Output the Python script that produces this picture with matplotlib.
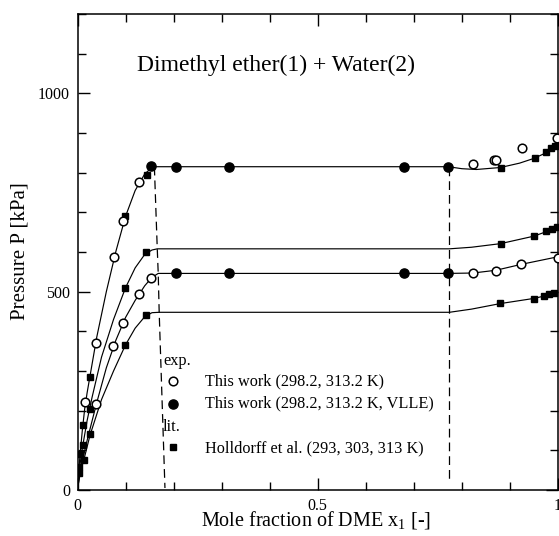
import matplotlib
matplotlib.use("Agg")
import matplotlib.pyplot as plt
from matplotlib.ticker import MultipleLocator

plt.rcParams['font.family'] = ['Liberation Serif', 'DejaVu Serif']
plt.rcParams['mathtext.fontset'] = 'custom'
plt.rcParams['mathtext.rm'] = 'Liberation Serif'
plt.rcParams['mathtext.it'] = 'Liberation Serif:italic'

# this work, VLE (open circles)
x_open_313 = [0.015, 0.038, 0.076, 0.094, 0.128, 0.824, 0.867, 0.872, 0.926, 0.997]
p_open_313 = [222, 370, 588, 677, 776, 821, 831, 833, 861, 888]
x_open_298 = [0.038, 0.074, 0.094, 0.128, 0.154, 0.823, 0.871, 0.924, 0.999]
p_open_298 = [218, 362, 421, 494, 534, 546, 553, 571, 586]

# this work, VLLE (filled circles)
x_vlle_313 = [0.154, 0.204, 0.316, 0.679, 0.771]
p_vlle_313 = [816, 815, 815, 814, 814]
x_vlle_298 = [0.204, 0.316, 0.679, 0.771]
p_vlle_298 = [547, 547, 546, 546]

# Holldorff et al. (filled squares)
x_hd_313 = [0.005, 0.012, 0.026, 0.099, 0.144, 0.881, 0.952, 0.975, 0.985, 0.994]
p_hd_313 = [92, 165, 285, 691, 793, 812, 837, 851, 862, 866]
x_hd_303 = [0.004, 0.011, 0.025, 0.099, 0.143, 0.882, 0.951, 0.974, 0.987, 0.997]
p_hd_303 = [59, 113, 203, 508, 599, 621, 641, 652, 659, 662]
x_hd_293 = [0.004, 0.013, 0.026, 0.099, 0.143, 0.879, 0.950, 0.971, 0.982, 0.992]
p_hd_293 = [43, 75, 140, 366, 440, 471, 482, 490, 494, 496]

# correlation curves
fit_313_x = [0, 0.005, 0.01, 0.015, 0.02, 0.03, 0.04, 0.06, 0.08, 0.10, 0.12, 0.14, 0.157,
             0.772, 0.80, 0.83, 0.88, 0.92, 0.95, 0.975, 1.0]
fit_313_p = [7, 85, 150, 205, 245, 315, 385, 500, 602, 690, 755, 797, 815,
             815, 810, 808, 813, 824, 836, 850, 868]
fit_303_x = [0, 0.005, 0.01, 0.02, 0.03, 0.05, 0.075, 0.10, 0.12, 0.14, 0.155, 0.166,
             0.774, 0.82, 0.88, 0.95, 0.975, 1.0]
fit_303_p = [5, 62, 105, 175, 232, 335, 430, 510, 560, 594, 605, 608,
             608, 612, 621, 640, 651, 663]
fit_298_x = [0, 0.01, 0.02, 0.04, 0.06, 0.08, 0.10, 0.12, 0.14, 0.155, 0.168,
             0.772, 0.823, 0.871, 0.924, 1.0]
fit_298_p = [3, 72, 125, 220, 308, 378, 435, 478, 515, 536, 546,
             546, 547, 554, 569, 588]
fit_293_x = [0, 0.005, 0.013, 0.026, 0.05, 0.075, 0.10, 0.12, 0.14, 0.155, 0.17,
             0.774, 0.82, 0.88, 0.95, 0.975, 1.0]
fit_293_p = [2, 42, 75, 138, 228, 300, 366, 408, 437, 447, 448,
             448, 456, 470, 483, 490, 497]

# liquid-liquid boundaries (dashed)
lle_left_x = [0.160, 0.166, 0.168, 0.170, 0.182]
lle_left_p = [815, 608, 546, 448, 5]
lle_right_x = [0.774, 0.774]
lle_right_p = [815, 18]

fig = plt.figure(figsize=(5.59, 5.36), dpi=100)
ax = fig.add_axes([77.5 / 559, 46 / 536, 480.5 / 559, 476 / 536])

for fx, fp in [(fit_313_x, fit_313_p), (fit_303_x, fit_303_p),
               (fit_298_x, fit_298_p), (fit_293_x, fit_293_p)]:
    ax.plot(fx, fp, color='black', lw=0.85, zorder=2)

ax.plot(lle_left_x, lle_left_p, color='black', lw=0.9, dashes=(7, 4), zorder=2)
ax.plot(lle_right_x, lle_right_p, color='black', lw=0.9, dashes=(7, 4), zorder=2)

sq = dict(ls='none', marker='s', ms=4.6, color='black', zorder=3)
ax.plot(x_hd_313, p_hd_313, **sq)
ax.plot(x_hd_303, p_hd_303, **sq)
ax.plot(x_hd_293, p_hd_293, **sq)

oc = dict(ls='none', marker='o', ms=6.2, mfc='white', mec='black', mew=1.1, zorder=4)
ax.plot(x_open_313, p_open_313, **oc)
ax.plot(x_open_298, p_open_298, **oc)

fc = dict(ls='none', marker='o', ms=6.6, color='black', zorder=4)
ax.plot(x_vlle_313, p_vlle_313, **fc)
ax.plot(x_vlle_298, p_vlle_298, **fc)

# legend drawn by hand
ax.text(0.178, 0.271, 'exp.', transform=ax.transAxes, fontsize=11.7, va='center')
ax.plot([0.199], [0.230], transform=ax.transAxes, **oc)
ax.text(0.265, 0.229, 'This work (298.2, 313.2 K)', transform=ax.transAxes,
        fontsize=11.7, va='center')
ax.plot([0.199], [0.181], transform=ax.transAxes, **fc)
ax.text(0.265, 0.181, 'This work (298.2, 313.2 K, VLLE)', transform=ax.transAxes,
        fontsize=11.7, va='center')
ax.text(0.178, 0.132, 'lit.', transform=ax.transAxes, fontsize=11.7, va='center')
ax.plot([0.198], [0.090], transform=ax.transAxes, **sq)
ax.text(0.265, 0.088, 'Holldorff et al. (293, 303, 313 K)', transform=ax.transAxes,
        fontsize=11.7, va='center')

ax.text(0.414, 0.880, 'Dimethyl ether(1) + Water(2)', transform=ax.transAxes,
        fontsize=17, ha='center', va='baseline')

ax.set_xlim(0, 1)
ax.set_ylim(0, 1200)
ax.set_xticks([0, 0.5, 1])
ax.set_xticklabels(['0', '0.5', '1'])
ax.set_yticks([0, 500, 1000])
ax.xaxis.set_minor_locator(MultipleLocator(0.1))
ax.yaxis.set_minor_locator(MultipleLocator(100))
ax.tick_params(which='both', direction='in', top=True, right=True, labelsize=11.5, width=1)
ax.tick_params(which='major', length=8.6)
ax.tick_params(which='minor', length=5.8)
ax.tick_params(axis='x', pad=5.5)
ax.tick_params(axis='y', pad=5.4)
for s in ax.spines.values():
    s.set_linewidth(1.1)

fig.text(316 / 559, 0.019, 'Mole fraction of DME x$_{1}$ [-]', fontsize=14.5,
         ha='center', va='baseline')
fig.text(20 / 559, 0.531, 'Pressure P [kPa]', fontsize=15, rotation=90,
         ha='center', va='center')

fig.savefig('out.png', dpi=100)
